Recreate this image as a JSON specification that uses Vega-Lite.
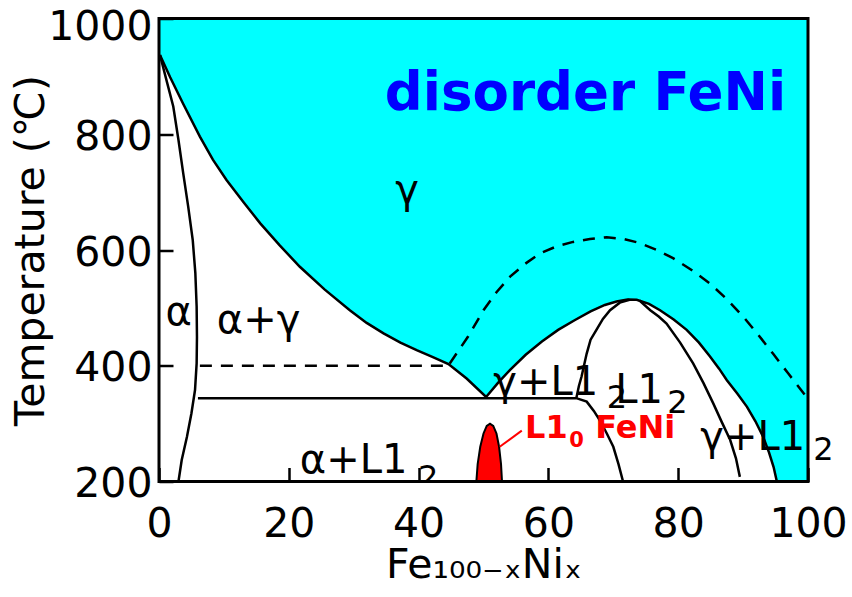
{
  "$schema": "https://vega.github.io/schema/vega-lite/v6.json",
  "width": 649,
  "height": 463,
  "autosize": {"type": "none"},
  "padding": {"left": 159, "top": 18.5, "right": 44, "bottom": 115.5},
  "config": {"view": {"stroke": null}, "font": "DejaVu Sans"},
  "encoding": {
    "x": {
      "field": "x", "type": "quantitative",
      "scale": {"domain": [0, 100], "nice": false, "zero": false},
      "axis": {
        "values": [0, 20, 40, 60, 80, 100], "format": "d", "domain": false, "grid": false,
        "tickSize": -14, "tickWidth": 2.5, "tickColor": "black",
        "labelFontSize": 41, "labelColor": "black", "labelPadding": 37,
        "labelFlush": false, "labelOverlap": false,
        "title": "Fe₁₀₀₋ₓNiₓ", "titleFontSize": 41, "titleFontWeight": "normal",
        "titleColor": "black", "titlePadding": 1, "zindex": 1
      }
    },
    "y": {
      "field": "t", "type": "quantitative",
      "scale": {"domain": [200, 1000], "nice": false, "zero": false},
      "axis": {
        "values": [200, 400, 600, 800, 1000], "format": "d", "domain": false, "grid": false,
        "tickSize": -14, "tickWidth": 2.5, "tickColor": "black",
        "labelFontSize": 41, "labelColor": "black", "labelPadding": 21,
        "labelOffset": {"condition": {"test": "datum.value == 1000", "value": 9}, "value": 3},
        "labelFlush": false, "labelOverlap": false,
        "title": "Temperature (℃)", "titleFontSize": 41, "titleFontWeight": "normal",
        "titleColor": "black", "titlePadding": -5, "zindex": 1
      }
    }
  },
  "layer": [
    {
      "data": {"values": [
        {"x": 0, "t": 942}, {"x": 0.15, "t": 937}, {"x": 1.7, "t": 899}, {"x": 3.7, "t": 853},
        {"x": 6.3, "t": 796}, {"x": 8.3, "t": 756}, {"x": 10.4, "t": 721}, {"x": 13, "t": 683},
        {"x": 15.6, "t": 646}, {"x": 18.6, "t": 608}, {"x": 21.7, "t": 571}, {"x": 25.5, "t": 532},
        {"x": 29.4, "t": 496}, {"x": 32, "t": 474}, {"x": 34.6, "t": 456}, {"x": 37.2, "t": 440},
        {"x": 39.7, "t": 427}, {"x": 42.2, "t": 415}, {"x": 44.6, "t": 403}, {"x": 47.4, "t": 378},
        {"x": 50.4, "t": 346}, {"x": 52.2, "t": 370}, {"x": 54.1, "t": 393}, {"x": 56.5, "t": 419},
        {"x": 59.0, "t": 442}, {"x": 61.5, "t": 462}, {"x": 64.1, "t": 479}, {"x": 66.5, "t": 494},
        {"x": 68.7, "t": 505}, {"x": 70.5, "t": 511}, {"x": 72.2, "t": 514.5}, {"x": 73.6, "t": 514},
        {"x": 75.5, "t": 507}, {"x": 77.2, "t": 496}, {"x": 79.3, "t": 480}, {"x": 81.3, "t": 462},
        {"x": 83.2, "t": 440}, {"x": 84.9, "t": 416}, {"x": 86.3, "t": 395}, {"x": 87.5, "t": 375},
        {"x": 89.1, "t": 352}, {"x": 90.6, "t": 329}, {"x": 91.9, "t": 304}, {"x": 93.1, "t": 277},
        {"x": 94.0, "t": 250}, {"x": 94.7, "t": 225}, {"x": 95.2, "t": 200}, {"x": 100, "t": 200}
      ]},
      "mark": {"type": "area", "color": "#00ffff", "opacity": 1},
      "encoding": {"y2": {"datum": 1000}}
    },
    {
      "data": {"values": [
        {"x": 48.9, "t": 200}, {"x": 49.1, "t": 230}, {"x": 49.5, "t": 260}, {"x": 50.0, "t": 283},
        {"x": 50.5, "t": 296}, {"x": 51.0, "t": 300}, {"x": 51.5, "t": 296}, {"x": 52.0, "t": 283},
        {"x": 52.4, "t": 260}, {"x": 52.7, "t": 230}, {"x": 52.85, "t": 200}
      ]},
      "mark": {"type": "area", "fill": "#ff0000", "stroke": "black", "strokeWidth": 2, "opacity": 1},
      "encoding": {"y2": {"datum": 200}}
    },
    {
      "data": {"values": [
        {"s": "A", "x": 0.15, "t": 937}, {"s": "A", "x": 1.7, "t": 899}, {"s": "A", "x": 3.7, "t": 853},
        {"s": "A", "x": 6.3, "t": 796}, {"s": "A", "x": 8.3, "t": 756}, {"s": "A", "x": 10.4, "t": 721},
        {"s": "A", "x": 13, "t": 683}, {"s": "A", "x": 15.6, "t": 646}, {"s": "A", "x": 18.6, "t": 608},
        {"s": "A", "x": 21.7, "t": 571}, {"s": "A", "x": 25.5, "t": 532}, {"s": "A", "x": 29.4, "t": 496},
        {"s": "A", "x": 32, "t": 474}, {"s": "A", "x": 34.6, "t": 456}, {"s": "A", "x": 37.2, "t": 440},
        {"s": "A", "x": 39.7, "t": 427}, {"s": "A", "x": 42.2, "t": 415}, {"s": "A", "x": 44.6, "t": 403},
        {"s": "A", "x": 47.4, "t": 378}, {"s": "A", "x": 50.4, "t": 346}, {"s": "A", "x": 52.2, "t": 370},
        {"s": "A", "x": 54.1, "t": 393}, {"s": "A", "x": 56.5, "t": 419}, {"s": "A", "x": 59.0, "t": 442},
        {"s": "A", "x": 61.5, "t": 462}, {"s": "A", "x": 64.1, "t": 479}, {"s": "A", "x": 66.5, "t": 494},
        {"s": "A", "x": 68.7, "t": 505}, {"s": "A", "x": 70.5, "t": 511}, {"s": "A", "x": 72.2, "t": 514.5},
        {"s": "A", "x": 73.6, "t": 514}, {"s": "A", "x": 75.5, "t": 507}, {"s": "A", "x": 77.2, "t": 496},
        {"s": "A", "x": 79.3, "t": 480}, {"s": "A", "x": 81.3, "t": 462}, {"s": "A", "x": 83.2, "t": 440},
        {"s": "A", "x": 84.9, "t": 416}, {"s": "A", "x": 86.3, "t": 395}, {"s": "A", "x": 87.5, "t": 375},
        {"s": "A", "x": 89.1, "t": 352}, {"s": "A", "x": 90.6, "t": 329}, {"s": "A", "x": 91.9, "t": 304},
        {"s": "A", "x": 93.1, "t": 277}, {"s": "A", "x": 94.0, "t": 250}, {"s": "A", "x": 94.7, "t": 225},
        {"s": "A", "x": 95.2, "t": 200},
        {"s": "B", "x": 0.15, "t": 937}, {"s": "B", "x": 1.0, "t": 900}, {"s": "B", "x": 2.2, "t": 848},
        {"s": "B", "x": 3.0, "t": 790}, {"s": "B", "x": 3.74, "t": 732}, {"s": "B", "x": 4.5, "t": 675},
        {"s": "B", "x": 5.2, "t": 617}, {"s": "B", "x": 5.6, "t": 560}, {"s": "B", "x": 5.8, "t": 502},
        {"s": "B", "x": 5.85, "t": 450}, {"s": "B", "x": 5.8, "t": 404}, {"s": "B", "x": 5.55, "t": 358},
        {"s": "B", "x": 5.0, "t": 318}, {"s": "B", "x": 4.3, "t": 277}, {"s": "B", "x": 3.5, "t": 237},
        {"s": "B", "x": 3.0, "t": 200},
        {"s": "C", "x": 6.0, "t": 344}, {"s": "C", "x": 64.3, "t": 344}, {"s": "C", "x": 65.9, "t": 338},
        {"s": "C", "x": 67.0, "t": 322}, {"s": "C", "x": 67.9, "t": 306}, {"s": "C", "x": 69.0, "t": 283},
        {"s": "C", "x": 70.0, "t": 260}, {"s": "C", "x": 70.8, "t": 230}, {"s": "C", "x": 71.5, "t": 200},
        {"s": "D", "x": 64.3, "t": 344}, {"s": "D", "x": 64.7, "t": 365}, {"s": "D", "x": 65.1, "t": 381},
        {"s": "D", "x": 65.9, "t": 421}, {"s": "D", "x": 66.5, "t": 445}, {"s": "D", "x": 67.4, "t": 462},
        {"s": "D", "x": 68.4, "t": 481}, {"s": "D", "x": 69.5, "t": 496}, {"s": "D", "x": 71.0, "t": 509},
        {"s": "D", "x": 72.5, "t": 514},
        {"s": "E", "x": 74.0, "t": 513}, {"s": "E", "x": 75.7, "t": 496}, {"s": "E", "x": 77.0, "t": 485},
        {"s": "E", "x": 78.2, "t": 473}, {"s": "E", "x": 80.3, "t": 440}, {"s": "E", "x": 82.3, "t": 404},
        {"s": "E", "x": 83.9, "t": 370}, {"s": "E", "x": 85.4, "t": 335}, {"s": "E", "x": 86.7, "t": 303},
        {"s": "E", "x": 88.0, "t": 272}, {"s": "E", "x": 88.9, "t": 240}, {"s": "E", "x": 89.5, "t": 208}
      ]},
      "mark": {"type": "line", "color": "black", "strokeWidth": 2.5},
      "encoding": {"detail": {"field": "s"}, "order": {"value": null}}
    },
    {
      "data": {"values": [
        {"s": "F", "x": 6.3, "t": 400}, {"s": "F", "x": 44.6, "t": 400},
        {"s": "G", "x": 44.8, "t": 404}, {"s": "G", "x": 46.2, "t": 427}, {"s": "G", "x": 47.6, "t": 450},
        {"s": "G", "x": 50.0, "t": 496}, {"s": "G", "x": 52.0, "t": 527}, {"s": "G", "x": 54.1, "t": 554},
        {"s": "G", "x": 56.4, "t": 576}, {"s": "G", "x": 58.7, "t": 594}, {"s": "G", "x": 61.2, "t": 606},
        {"s": "G", "x": 63.8, "t": 614}, {"s": "G", "x": 66.4, "t": 619}, {"s": "G", "x": 69.0, "t": 622},
        {"s": "G", "x": 71.6, "t": 619}, {"s": "G", "x": 74.1, "t": 612}, {"s": "G", "x": 76.7, "t": 600},
        {"s": "G", "x": 79.2, "t": 586}, {"s": "G", "x": 82.0, "t": 566}, {"s": "G", "x": 84.9, "t": 542},
        {"s": "G", "x": 87.5, "t": 515}, {"s": "G", "x": 90.0, "t": 485}, {"s": "G", "x": 92.3, "t": 454},
        {"s": "G", "x": 94.6, "t": 421}, {"s": "G", "x": 97.0, "t": 386}, {"s": "G", "x": 99.5, "t": 350}
      ]},
      "mark": {"type": "line", "color": "black", "strokeWidth": 2.5, "strokeDash": [12, 9]},
      "encoding": {"detail": {"field": "s"}, "order": {"value": null}}
    },
    {
      "data": {"values": [{"x": 52.5, "t": 260}, {"x": 55.9, "t": 288}]},
      "mark": {"type": "line", "color": "#ff0000", "strokeWidth": 2}
    },
    {
      "data": {"values": [
        {"label": "α", "x": 1.0, "t": 470},
        {"label": "α+γ", "x": 8.9, "t": 456},
        {"label": "γ", "x": 36.4, "t": 681},
        {"label": "γ+L1", "x": 51.5, "t": 349},
        {"label": "L1", "x": 70.3, "t": 335},
        {"label": "γ+L1", "x": 83.4, "t": 254},
        {"label": "α+L1", "x": 21.7, "t": 215}
      ]},
      "mark": {"type": "text", "align": "left", "baseline": "alphabetic", "fontSize": 40, "color": "black"},
      "encoding": {"text": {"field": "label"}}
    },
    {
      "data": {"values": [
        {"label": "2", "x": 69.0, "t": 327},
        {"label": "2", "x": 78.3, "t": 318},
        {"label": "2", "x": 100.8, "t": 237}
      ]},
      "mark": {"type": "text", "align": "left", "baseline": "alphabetic", "fontSize": 32, "color": "black"},
      "encoding": {"text": {"field": "label"}}
    },
    {
      "data": {"values": [{"label": "2", "x": 39.9, "t": 189}]},
      "mark": {"type": "text", "align": "left", "baseline": "alphabetic", "fontSize": 32, "color": "black", "clip": true},
      "encoding": {"text": {"field": "label"}}
    },
    {
      "data": {"values": [
        {"label": "L1", "x": 56.4, "t": 275},
        {"label": "FeNi", "x": 67.2, "t": 275}
      ]},
      "mark": {"type": "text", "align": "left", "baseline": "alphabetic", "fontSize": 32, "fontWeight": "bold", "color": "#ff0000"},
      "encoding": {"text": {"field": "label"}}
    },
    {
      "data": {"values": [{"label": "0", "x": 63.2, "t": 260}]},
      "mark": {"type": "text", "align": "left", "baseline": "alphabetic", "fontSize": 21, "fontWeight": "bold", "color": "#ff0000"},
      "encoding": {"text": {"field": "label"}}
    },
    {
      "data": {"values": [{"label": "disorder FeNi", "x": 34.8, "t": 842}]},
      "mark": {"type": "text", "align": "left", "baseline": "alphabetic", "fontSize": 53, "fontWeight": "bold", "color": "#0000ff"},
      "encoding": {"text": {"field": "label"}}
    },
    {
      "data": {"values": [{"x": 0, "t": 200, "x2": 100, "t2": 1000}]},
      "mark": {"type": "rect", "fill": null, "fillOpacity": 0, "stroke": "black", "strokeWidth": 3},
      "encoding": {"x2": {"field": "x2"}, "y2": {"field": "t2"}}
    }
  ]
}
